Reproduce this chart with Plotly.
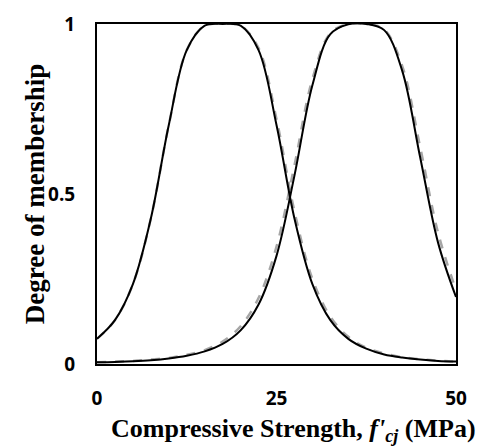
import plotly.graph_objects as go

# Compressive strength (MPa)
strength = [0, 2.5, 5, 7.5, 10, 12.5, 15, 17.5, 20, 22.5, 25, 27.5, 30,
            32.5, 35, 37.5, 40, 42.5, 45, 47.5, 50]

# Membership degrees
low_solid = [0.074, 0.129, 0.235, 0.428, 0.703, 0.923, 0.995, 1.0, 0.995, 0.923,
             0.703, 0.428, 0.235, 0.129, 0.074, 0.045, 0.028, 0.019, 0.013, 0.009, 0.007]
low_dashed = [0.074, 0.129, 0.235, 0.428, 0.703, 0.923, 0.995, 1.0, 0.995, 0.929,
              0.720, 0.449, 0.250, 0.139, 0.080, 0.048, 0.031, 0.020, 0.014, 0.010, 0.007]
high_solid = [0.005, 0.006, 0.008, 0.011, 0.016, 0.024, 0.037, 0.059, 0.099, 0.175,
              0.318, 0.554, 0.820, 0.970, 0.999, 1.0, 0.982, 0.863, 0.609, 0.357, 0.197]
high_dashed = [0.005, 0.007, 0.009, 0.013, 0.018, 0.027, 0.041, 0.066, 0.111, 0.194,
               0.345, 0.584, 0.838, 0.973, 1.0, 1.0, 0.984, 0.877, 0.639, 0.386, 0.217]

x_ticks = [0, 25, 50]
y_ticks = [0, 0.5, 1]
y_tick_labels = ["0", "0.5", "1"]

fig = go.Figure()
for ys in (low_dashed, high_dashed):
    fig.add_trace(go.Scatter(x=strength, y=ys, mode="lines",
                             line=dict(color="#a6a6a6", width=2.5, dash="dash",
                                       shape="spline", smoothing=1.0),
                             showlegend=False, hoverinfo="skip"))
for ys in (low_solid, high_solid):
    fig.add_trace(go.Scatter(x=strength, y=ys, mode="lines",
                             line=dict(color="black", width=2,
                                       shape="spline", smoothing=1.0),
                             showlegend=False, hoverinfo="skip"))

tick_font = dict(family="Open Sans, Lato, sans-serif", size=19, color="black")
xtitle_font = dict(family="Liberation Serif, Times New Roman, serif", size=26, color="black")
ytitle_font = dict(family="Liberation Serif, Times New Roman, serif", size=27, color="black")

fig.update_layout(
    width=483, height=448,
    margin=dict(l=97, r=27, t=24, b=84),
    paper_bgcolor="white", plot_bgcolor="white",
    xaxis=dict(range=[0, 50], tickvals=x_ticks, ticktext=[f"<b>{v}</b>" for v in x_ticks],
               showgrid=False, zeroline=False, showline=True, linecolor="black",
               linewidth=2, mirror=True, ticks="", tickfont=tick_font,
               ticklabelstandoff=16),
    yaxis=dict(range=[0, 1], tickvals=y_ticks, ticktext=[f"<b>{t}</b>" for t in y_tick_labels],
               showgrid=False, zeroline=False, showline=True, linecolor="black",
               linewidth=2, mirror=True, ticks="", tickfont=tick_font,
               ticklabelstandoff=16),
    annotations=[
        dict(text="<b>Compressive Strength, <i>f'</i><sub><i>cj</i></sub> (MPa)</b>",
             xref="paper", yref="paper", x=1.06, y=-0.193, xanchor="right", yanchor="middle",
             showarrow=False, font=xtitle_font),
        dict(text="<b>Degree of membership</b>",
             xref="paper", yref="paper", x=-0.172, y=0.5, xanchor="center", yanchor="middle",
             textangle=-90, showarrow=False, font=ytitle_font),
    ],
)

fig.write_html("out.html")
